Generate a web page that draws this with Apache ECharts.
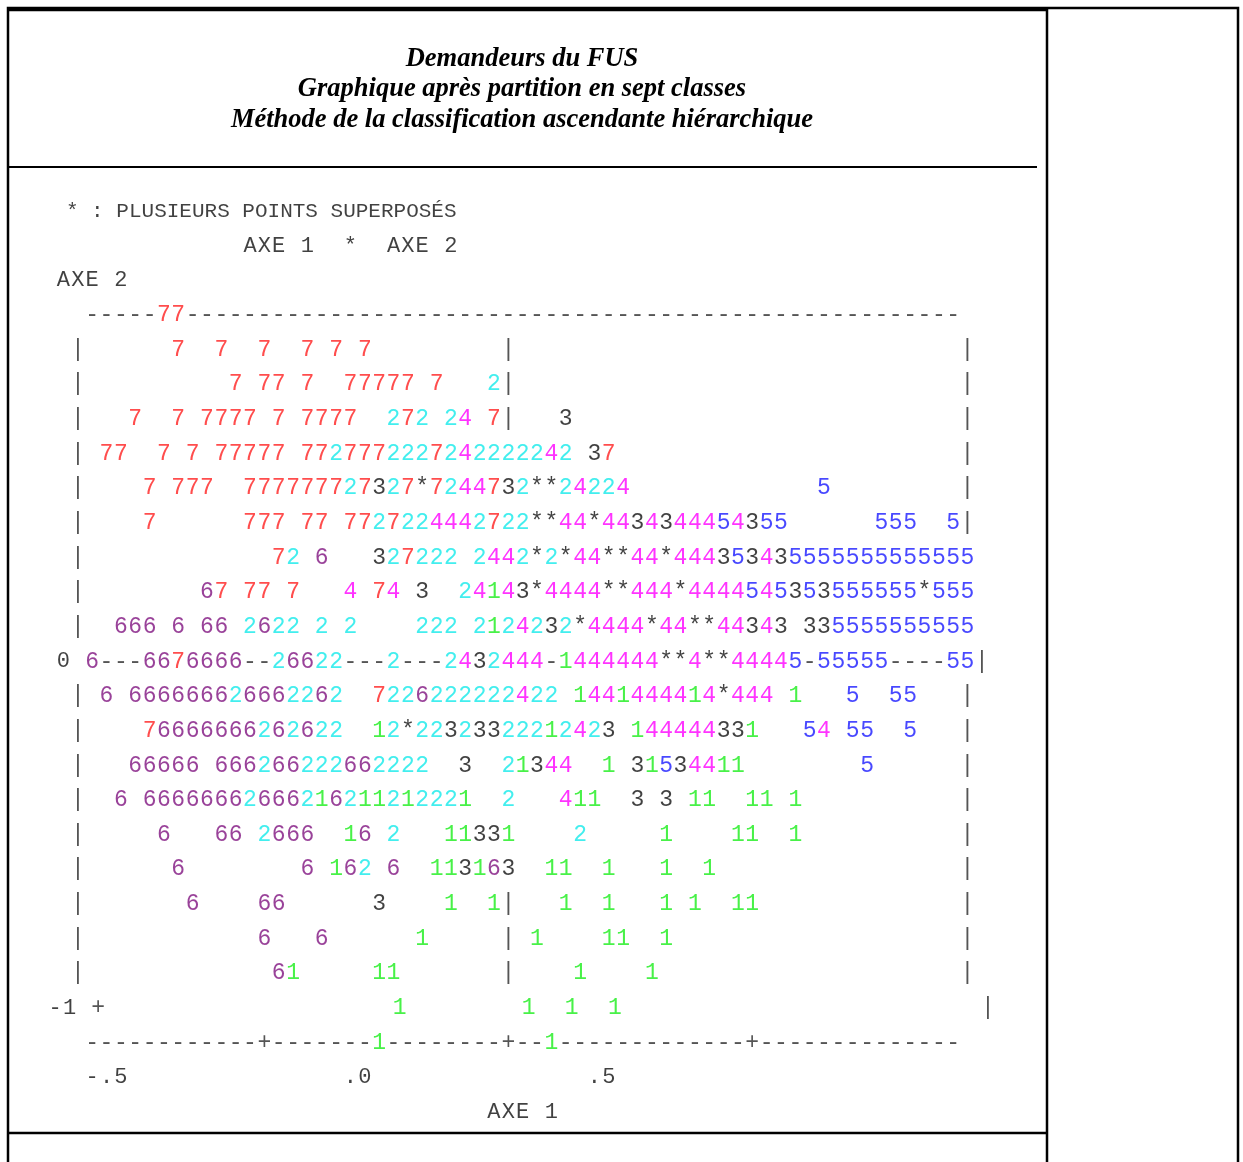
<!DOCTYPE html>
<html><head><meta charset="utf-8">
<script src="https://cdn.jsdelivr.net/npm/echarts@6/dist/echarts.min.js"></script>
<style>html,body{margin:0;padding:0;background:#fff}#c{width:1243px;height:1162px}</style>
</head><body><div id="c"></div>
<script>
// ---------- texts ----------
const titleLines = ['Demandeurs du FUS', 'Graphique après partition en sept classes', 'Méthode de la classification ascendante hiérarchique'];
const noteText = '* : PLUSIEURS POINTS SUPERPOSÉS';
const axesCaption = 'AXE 1  *  AXE 2';
const yAxisTitle = 'AXE 2';
const xAxisTitle = 'AXE 1';
// y tick labels: [row, col, text]
const yTickLabels = [[10, -2, '0'], [20, -3, '-1']];
// x tick labels: [col, text]
const xTickLabels = [[0, '-.5'], [18, '.0'], [35, '.5']];

// class colours (1..7) and superposition mark
const classColors = {'1':'#1aee1a','2':'#14eaea','3':'#111111','4':'#ff00ff','5':'#1a1aff','6':'#7f137f','7':'#ff2020','*':'#111111'};

const DASH = n => '-'.repeat(n);   // frame glyphs only
// scatter rows (row 0 = top frame line, row 21 = bottom frame line); runs of [startColumn, characters]
const plotRows = [
 [[0,'-----77'],[7,DASH(54)]],
 [[-1,'|'],[6,'7  7  7  7 7 7'],[29,'|'],[61,'|']],
 [[-1,'|'],[10,'7 77 7  77777 7   2|'],[61,'|']],
 [[-1,'|'],[3,'7  7 7777 7 7777  272 24 7|   3'],[61,'|']],
 [[-1,'|'],[1,'77  7 7 77777 ' + '7727772227242222242' + ' 37'],[61,'|']],
 [[-1,'|'],[4,'7 777  7777777' + '27327*7244732**24224'],[51,'5'],[61,'|']],
 [[-1,'|'],[4,'7      777 77 77' + '27224442722' + '**44*4434344454355'],[55,'555  5|']],
 [[-1,'|'],[13,'72 6   327222 2442*2*44**44*444' + '35343' + '55555' + '55555' + '555']],
 [[-1,'|'],[8,'67 77 7   4 74 3  2414' + '3*4444**444*4444545353' + '555555*555']],
 [[-1,'|'],[2,'666 6 66 2622 2 2    222 21' + '24232*4444*44**44343 33' + '55555' + '55555']],
 [[0,'6---6676666--26622---2---2432' + '444-1444444**4**4444' + '5-55555----55|']],
 [[-1,'|'],[1,'6 ' + '6666666' + '26662262'],[20,'7226222222422 1441444414*444 1   5  55'],[61,'|']],
 [[-1,'|'],[4,'7' + '6666666' + '262622' + '  12*22323322212423 144444331   54 55  5'],[61,'|']],
 [[-1,'|'],[3,'66666 666' + '2' + '66' + '222' + '66' + '2222' + '  3  ' + '21344  1 31534411'],[54,'5'],[61,'|']],
 [[-1,'|'],[2,'6 ' + '6666666' + '2666216211212221' + '  2   411  3 3 11  11 1'],[61,'|']],
 [[-1,'|'],[5,'6   66 2666  16 2   11331    2     1    11  1'],[61,'|']],
 [[-1,'|'],[6,'6        6 162 6  113163  11  1   1  1'],[61,'|']],
 [[-1,'|'],[7,'6    66      3    1  1|   1  1   1 1  11'],[61,'|']],
 [[-1,'|'],[12,'6   6      1     | 1    11  1'],[61,'|']],
 [[-1,'|'],[13,'61     11       |    1    1'],[61,'|']],
 [[0,'+'],[21,'1'],[30,'1  1  1'],[62,'|']],
 [[0,DASH(12) + '+' + DASH(7) + '1' + DASH(8) + '+--1' + DASH(13) + '+' + DASH(14)]]
];

// ---------- build glyph lists ----------
const ROW_SHIFT = {20: 0.42};
const groups = {};
function add(key, col, row, ch) { (groups[key] = groups[key] || []).push({value:[col,row], name:ch}); }
plotRows.forEach((runs, r) => {
  const s = ROW_SHIFT[r] || 0;
  runs.forEach(([c0, txt]) => {
    [...txt].forEach((ch, i) => {
      if (ch === ' ') return;
      const key = classColors[ch] ? ('c' + ch) : 'frame';
      add(key, c0 + i + s, r, ch);
    });
  });
});
function addText(row, col, txt, shift) {
  [...txt].forEach((ch, i) => { if (ch !== ' ') add('text', col + i + (shift||0), row, ch); });
}
yTickLabels.forEach(([r, c, t]) => addText(r, c, t, ROW_SHIFT[r] || 0));
xTickLabels.forEach(([c, t]) => addText(22, c, t));
addText(23, 28, xAxisTitle);
addText(-1, -2, yAxisTitle);
addText(-2, 11, axesCaption);

const DATA_FONT = 'Liberation Mono';
function glyphSeries(key, color, size) {
  return {
    type:'scatter', name:key, silent:true, animation:false,
    symbol:'rect', symbolSize:1, itemStyle:{color:'rgba(0,0,0,0)'},
    label:{show:true, position:'inside', formatter:'{b}', color:color, fontFamily:DATA_FONT,
      fontSize:size, align:'center', verticalAlign:'middle'},
    data: groups[key] || []
  };
}
const series = [];
series.push(glyphSeries('frame', '#2a2a2a', 23));
series.push(glyphSeries('text', '#111111', 22));
['1','2','3','4','5','6','7','*'].forEach(k => series.push(glyphSeries('c' + k, classColors[k], 23)));
series.push({
  type:'scatter', name:'note', silent:true, symbol:'rect', symbolSize:1, itemStyle:{color:'rgba(0,0,0,0)'},
  label:{show:true, position:'inside', formatter:'{b}', color:'#111', fontFamily:DATA_FONT, fontSize:21, align:'left', verticalAlign:'middle'},
  data:[{value:[-1.83, -3], name:noteText}]
});

const graphic = [
  {type:'rect', silent:true, shape:{x:8,y:8,width:1230,height:1200}, style:{fill:'none', stroke:'#000', lineWidth:2.5}},
  {type:'line', silent:true, shape:{x1:8,y1:10,x2:1047,y2:10}, style:{stroke:'#000', lineWidth:2.5}},
  {type:'line', silent:true, shape:{x1:1047,y1:8,x2:1047,y2:1200}, style:{stroke:'#000', lineWidth:2.5}},
  {type:'line', silent:true, shape:{x1:8,y1:1133,x2:1047,y2:1133}, style:{stroke:'#000', lineWidth:2.5}},
  {type:'line', silent:true, shape:{x1:8,y1:167,x2:1037,y2:167}, style:{stroke:'#000', lineWidth:2}}
];
[59, 89, 120].forEach((y, i) => graphic.push({
  type:'text', silent:true, style:{text:titleLines[i], x:522, y:y, textAlign:'center', textVerticalAlign:'middle',
    font:'italic bold 26.5px "Liberation Serif"', fill:'#000'}
}));

const chart = echarts.init(document.getElementById('c'), null, {renderer:'canvas'});
chart.setOption({
  animation:false,
  backgroundColor:'#fff',
  grid:{left:27.6, top:176.4, width:975.8, height:970.2, containLabel:false},
  xAxis:{type:'value', min:-4.5, max:63.5, show:false},
  yAxis:{type:'value', min:-4, max:24, inverse:true, show:false},
  graphic:graphic,
  series:series
});
</script>
</body></html>
